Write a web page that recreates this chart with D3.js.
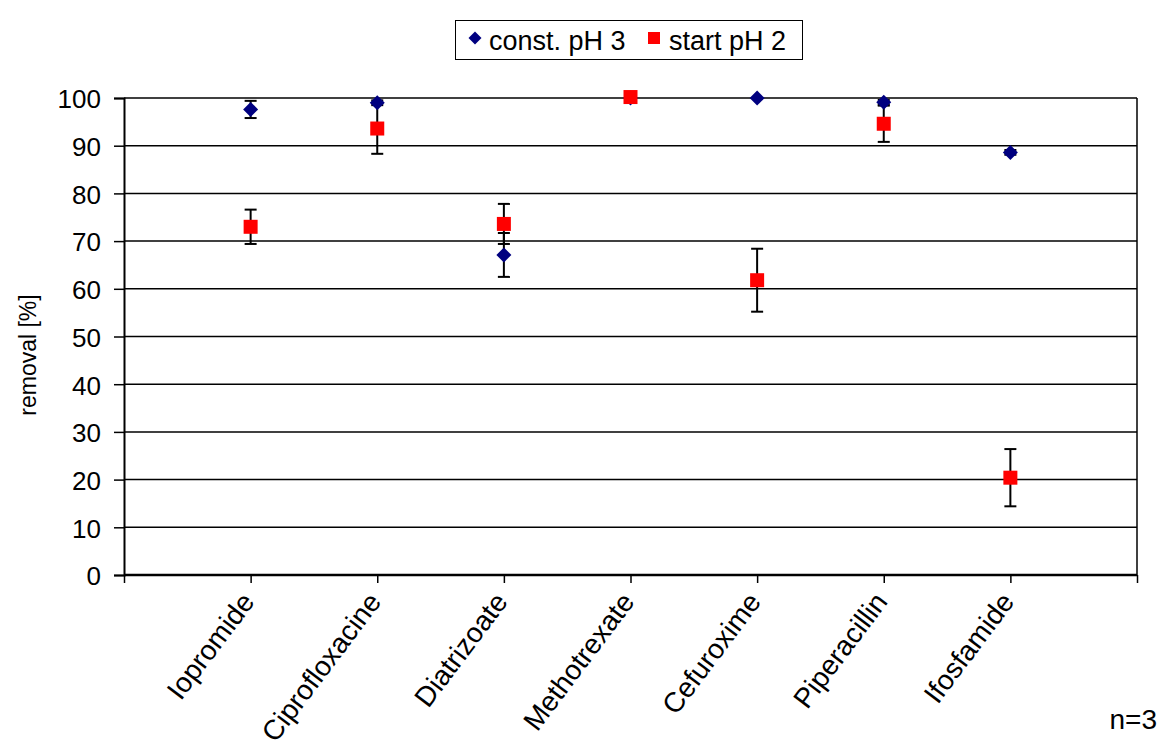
<!DOCTYPE html>
<html><head><meta charset="utf-8">
<script src="https://cdn.jsdelivr.net/npm/d3@7"></script>
<style>body{margin:0;background:#fff;} svg{display:block;font-family:"Liberation Sans",Arial,sans-serif;}</style>
</head><body>
<svg id="c" width="1161" height="742"></svg>
<script>
const categories = ["Iopromide","Ciprofloxacine","Diatrizoate","Methotrexate","Cefuroxime","Piperacillin","Ifosfamide"];
const constPH3 = [97.6, 99.0, 67.1, 100.0, 100.0, 99.1, 88.6];
const constPH3Err = [1.8, 0.5, 4.6, 0.2, 0.2, 0.5, 0.5];
const startPH2 = [73.0, 93.6, 73.6, 100.2, 61.8, 94.6, 20.4];
const startPH2Err = [3.6, 5.3, 4.2, 0.3, 6.6, 3.8, 6.0];
const yTicks = [0,10,20,30,40,50,60,70,80,90,100];

const svg = d3.select("#c");
const L=124, R=1137, T=98, B=575;
const x = d3.scaleLinear().domain([0, categories.length+1]).range([L,R]);
const y = d3.scaleLinear().domain([0,100]).range([B,T]);

// gridlines
svg.append("g").selectAll("line").data(yTicks.filter(d=>d>0)).join("line")
  .attr("x1",L).attr("x2",R).attr("y1",d=>y(d)).attr("y2",d=>y(d))
  .attr("stroke","#000").attr("stroke-width",1.5);
// right border
svg.append("line").attr("x1",R).attr("x2",R).attr("y1",T).attr("y2",B).attr("stroke","#000").attr("stroke-width",1.5);

// y axis
const yAxis = svg.append("g").attr("transform",`translate(${L},0)`)
  .call(d3.axisLeft(y).tickValues(yTicks).tickSize(10).tickPadding(13));
yAxis.select(".domain").attr("stroke-width",2);
yAxis.selectAll(".tick line").attr("stroke-width",1.5);
yAxis.selectAll("text").attr("font-size",26).attr("fill","#000").attr("dy","0.38em")
  .attr("font-family","Liberation Sans, Arial, sans-serif");

// x axis
const xAxis = svg.append("g").attr("transform",`translate(0,${B})`)
  .call(d3.axisBottom(x).tickValues(d3.range(0,categories.length+2)).tickSize(8).tickFormat(""));
xAxis.select(".domain").attr("stroke-width",2.5).attr("d",`M${L},0H${R}`);
xAxis.selectAll(".tick line").attr("stroke-width",1.5);

// x labels
svg.append("g").selectAll("text").data(categories).join("text")
  .attr("transform",(d,i)=>`translate(${x(i+1)+5},${B+27}) rotate(-53)`)
  .attr("text-anchor","end").attr("font-size",28)
  .text(d=>d);

// y title
svg.append("text").attr("transform",`translate(36,355) rotate(-90)`)
  .attr("text-anchor","middle").attr("font-size",23).text("removal [%]");

// error bars
function errBars(vals, errs){
  const g = svg.append("g").attr("stroke","#000").attr("stroke-width",2);
  vals.forEach((v,i)=>{
    const cx=x(i+1), e=errs[i];
    if(e<0.4) return;
    g.append("line").attr("x1",cx).attr("x2",cx).attr("y1",y(v-e)).attr("y2",y(v+e));
    [v-e,v+e].forEach(w=>g.append("line").attr("x1",cx-6).attr("x2",cx+6).attr("y1",y(w)).attr("y2",y(w)));
  });
}
errBars(constPH3, constPH3Err);
errBars(startPH2, startPH2Err);

// markers
const diamond = s => `M0,${-s}L${s},0L0,${s}L${-s},0Z`;
svg.append("g").selectAll("path").data(constPH3).join("path")
  .attr("transform",(d,i)=>`translate(${x(i+1)},${y(d)})`)
  .attr("d",diamond(7.5)).attr("fill","#000080");
svg.append("g").selectAll("rect").data(startPH2).join("rect")
  .attr("x",(d,i)=>x(i+1)-7).attr("y",d=>y(d)-7).attr("width",14).attr("height",14).attr("fill","#ff0000");

// legend
const lg = svg.append("g");
lg.append("rect").attr("x",455.5).attr("y",20.5).attr("width",347).attr("height",39).attr("fill","#fff").attr("stroke","#000").attr("stroke-width",1);
lg.append("path").attr("transform","translate(475,38)").attr("d",diamond(6.5)).attr("fill","#000080");
lg.append("text").attr("x",489).attr("y",50).attr("font-size",27).text("const. pH 3");
lg.append("rect").attr("x",648).attr("y",32).attr("width",12).attr("height",12).attr("fill","#ff0000");
lg.append("text").attr("x",669).attr("y",50).attr("font-size",27).text("start pH 2");

// n=3
svg.append("text").attr("x",1157).attr("y",729).attr("text-anchor","end").attr("font-size",28).text("n=3");
</script>
</body></html>
